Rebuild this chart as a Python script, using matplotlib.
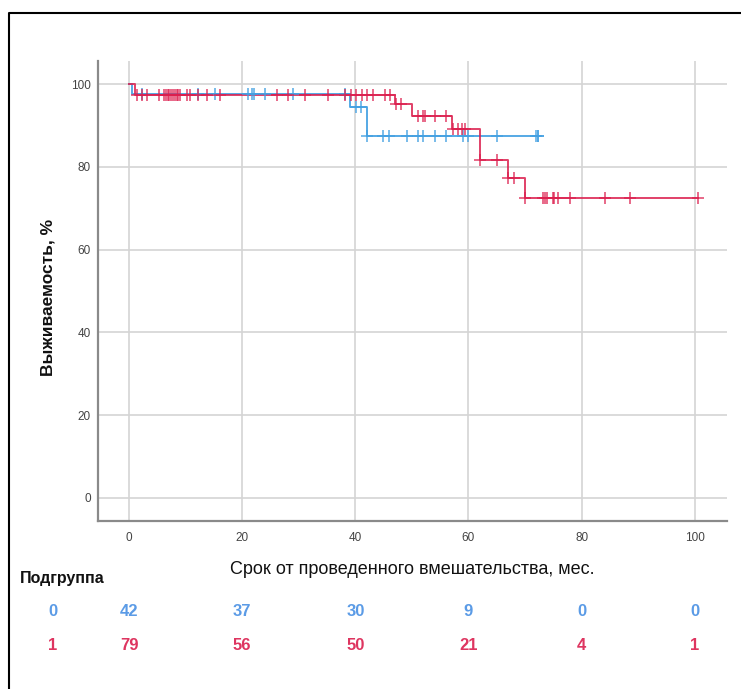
import numpy as np
import matplotlib
matplotlib.use("Agg")
import matplotlib.pyplot as plt
from matplotlib.lines import Line2D
from matplotlib.transforms import blended_transform_factory

plt.rcParams['font.family'] = ['Liberation Sans', 'DejaVu Sans']

# Group 0 (blue): step times / survival %, end of follow-up, censored times
blue_t = [0, 0.5, 39.0, 42.0]
blue_s = [100, 97.6, 94.5, 87.5]
blue_end = 72.3
blue_cens = [2.2, 12.1, 15.2, 21.0, 21.7, 22.1, 24.1, 29.0, 38.2,
             40.1, 41.0,
             42.0, 44.9, 46.0, 49.1, 51.1, 52.0, 54.1, 56.0, 59.1, 60.0,
             65.0, 72.0, 72.2, 72.3]

# Group 1 (red)
red_t = [0, 1.0, 47.0, 50.0, 57.0, 62.0, 67.0, 70.0]
red_s = [100, 97.5, 95.1, 92.3, 89.1, 81.6, 77.4, 72.4]
red_end = 100.6
red_cens = [1.35, 2.2, 3.1, 5.2, 6.2, 6.5, 6.8, 7.1, 7.4, 7.7, 8.1, 8.4, 8.7, 9.0,
            10.3, 10.8, 12.1, 13.8, 16.1, 26.1, 28.1, 31.1, 35.2, 38.2, 39.3,
            40.1, 41.1, 42.0, 43.2, 45.2, 46.1,
            47.2, 48.1,
            51.1, 52.0, 52.3, 54.1, 56.0,
            57.2, 58.2, 58.9, 59.4,
            62.1, 65.0,
            67.0, 68.0,
            70.0, 73.2, 73.5, 73.9, 74.9, 75.1, 75.9, 77.9, 84.1, 88.5, 100.6]

# Numbers at risk
risk_times = [0, 20, 40, 60, 80, 100]
risk_groups = ["0", "1"]
risk_blue = [42, 37, 30, 9, 0, 0]
risk_red = [79, 56, 50, 21, 4, 1]

c_blue = "#43A0E2"
c_red = "#DC1F4E"
c_blue_txt = "#5B9BE6"
c_red_txt = "#DE3560"


def surv_at(t_steps, s_steps, t):
    idx = np.searchsorted(t_steps, t, side="right") - 1
    return np.array(s_steps)[idx]


fig = plt.figure(figsize=(7.41, 6.89), dpi=100)
ax = fig.add_axes([98 / 741, 1 - 521 / 689, (727 - 98) / 741, (521 - 61) / 689])

for t_steps, s_steps, t_end, cens, col, a in [
        (blue_t, blue_s, blue_end, blue_cens, c_blue, 0.9),
        (red_t, red_s, red_end, red_cens, c_red, 0.85)]:
    xs = list(t_steps) + [t_end]
    ys = list(s_steps) + [s_steps[-1]]
    ax.step(xs, ys, where="post", color=col, lw=1.4, alpha=a, zorder=3)
    cens = np.array(cens)
    ax.plot(cens, surv_at(t_steps, s_steps, cens), ls="none", marker="+",
            ms=8, mew=1.1, color=col, alpha=a, zorder=4)

ax.set_xlim(-5.5, 105.7)
ax.set_ylim(-5.6, 105.6)
ax.set_xticks(range(0, 101, 20))
ax.set_yticks(range(0, 101, 20))
ax.grid(True, color="#d4d4d4", lw=1.2)
ax.set_axisbelow(True)
for s in ["top", "right"]:
    ax.spines[s].set_visible(False)
for s in ["left", "bottom"]:
    ax.spines[s].set_color("#8a8a8a")
    ax.spines[s].set_linewidth(1.6)
ax.tick_params(axis="both", length=0, labelsize=8.5, labelcolor="#444444")
ax.tick_params(axis="x", pad=8)
ax.tick_params(axis="y", pad=5)

ax.set_xlabel("Срок от проведенного вмешательства, мес.", fontsize=13,
              color="#111111", labelpad=12)
fig.text(48 / 741, 1 - 297 / 689, "Выживаемость, %", rotation=90, fontsize=12.5,
         fontweight="bold", color="#111111", ha="center", va="center")

# risk table
fig.text(20 / 741, 1 - 578 / 689, "Подгруппа", fontsize=11.5, fontweight="bold",
         color="#111111", ha="left", va="center")
tr = blended_transform_factory(ax.transData, fig.transFigure)
rows = [(risk_blue, c_blue_txt, 1 - 612 / 689), (risk_red, c_red_txt, 1 - 646 / 689)]
for (vals, col, yy), g in zip(rows, risk_groups):
    fig.text(53 / 741, yy, g, fontsize=12, fontweight="bold", color=col,
             ha="center", va="center")
    for t, v in zip(risk_times, vals):
        ax.text(t, yy, str(v), transform=tr, fontsize=12, fontweight="bold",
                color=col, ha="center", va="center", clip_on=False)

# outer frame (open to the right and bottom)
fx = 9 / 741
fy = 1 - 13 / 689
fig.add_artist(Line2D([fx, fx, 1.0], [0.0, fy, fy], transform=fig.transFigure,
                      color="black", lw=1.5))

fig.savefig("out.png", dpi=100)
